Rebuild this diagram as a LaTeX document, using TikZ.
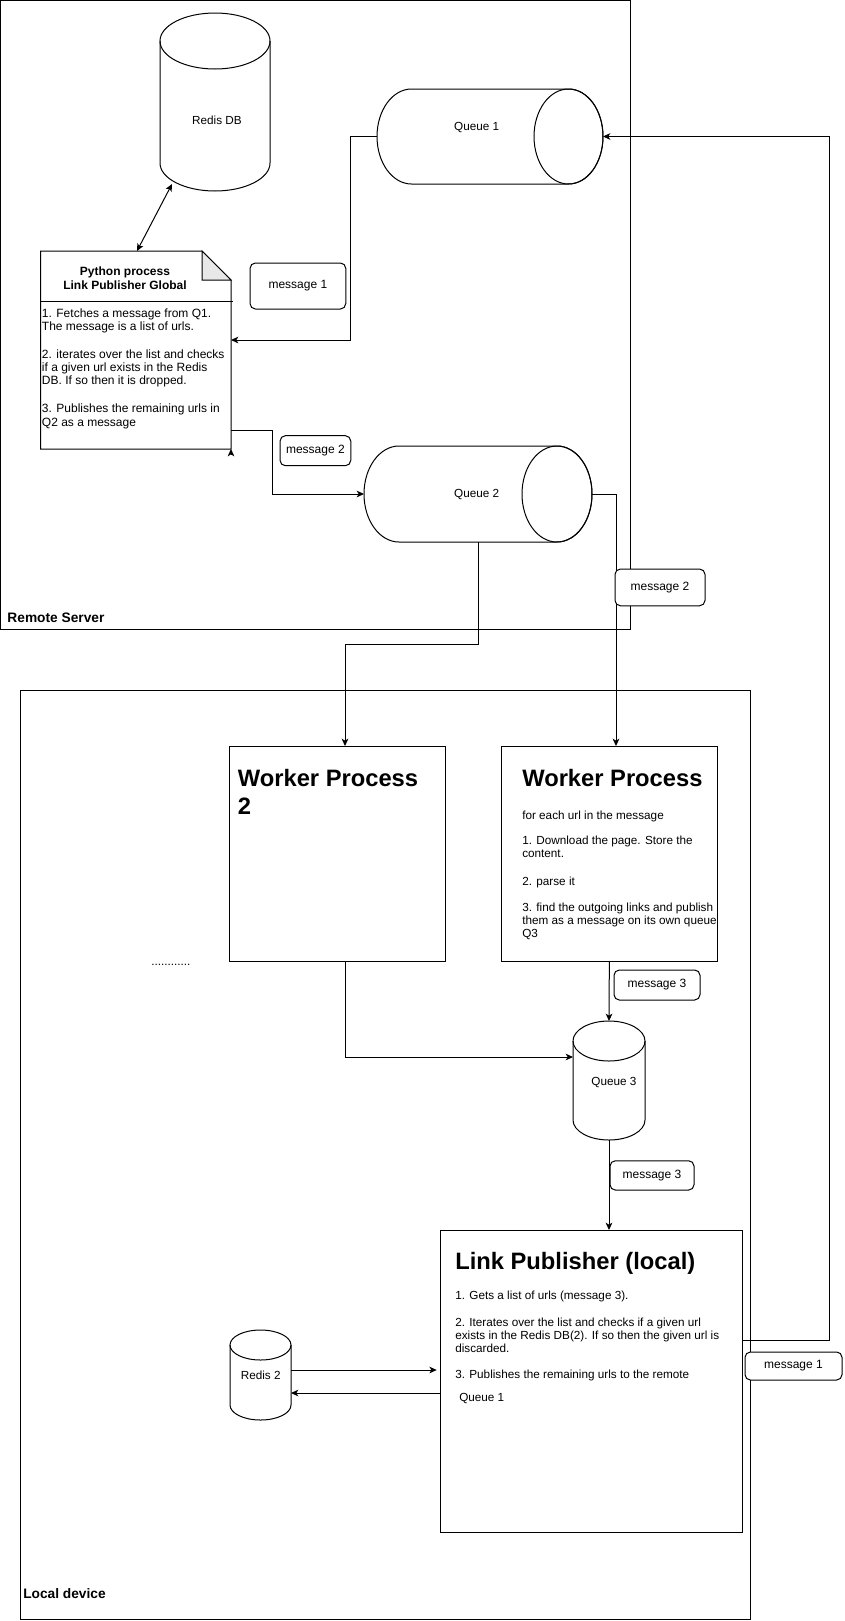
\documentclass[tikz,border=0pt]{standalone}
\usepackage{fontspec}
\setmainfont{Liberation Sans}
\usetikzlibrary{arrows.meta}
\colorlet{foldBg}{black!9}
\tikzset{
boxstyle/.style={rectangle, draw, inner sep=0pt, outer sep=0pt, line width=0.75pt},
hidestyle/.style={rectangle, inner sep=0pt, outer sep=0pt},
msgstyle/.style={rectangle, rounded corners=4pt, draw, fill=white, inner sep=0pt, outer sep=0pt, line width=0.75pt, font=\fontsize{9}{11}\selectfont},
cyllabel/.style={inner sep=0pt, font=\fontsize{8.8}{10.5}\selectfont},
linestyle/.style={anchor=base west, inner sep=0pt, font=\fontsize{8.8}{10.5}\selectfont},
pystyle/.style={anchor=base west, inner sep=0pt, font=\fontsize{9}{11}\selectfont},
headstyle/.style={anchor=base west, inner sep=0pt, font=\fontsize{17.8}{21}\selectfont\bfseries},
grouplabel/.style={anchor=base west, inner sep=0pt, font=\fontsize{10.3}{12}\selectfont\bfseries},
arr/.style={-{Stealth[length=5.5pt, width=5pt, inset=1.5pt]}, line width=0.75pt},
dblarr/.style={{Stealth[length=5.5pt, width=5pt, inset=1.5pt]}-{Stealth[length=5.5pt, width=5pt, inset=1.5pt]}, line width=0.75pt}
}
\newcommand{\panel}[5]{
  \node [boxstyle, minimum width={(#4-#2)*0.75pt}, minimum height={(#5-#3)*0.75pt}] (#1) at ({(#2+#4)/2}, {(#3+#5)/2}) {};
}
\newcommand{\msgbox}[6]{
  \node [msgstyle, minimum width={#4*0.75pt}, minimum height={#5*0.75pt}] (#1) at (#2, #3) {#6};
}
\newcommand{\hcyl}[9]{
  \node [hidestyle, minimum width={#4*0.75pt}, minimum height={#5*0.75pt}] (#1) at ({#2+#4/2}, {#3+#5/2}) {};
  \draw [line width=0.75pt] ({#2+#6}, #3) -- ({#2+#4-#6}, #3) arc [start angle=-90, end angle=90, x radius=#6, y radius={#5/2}] -- ({#2+#6}, {#3+#5}) arc [start angle=90, end angle=270, x radius=#6, y radius={#5/2}] -- cycle;
  \draw [line width=0.75pt] ({#2+#4-#6}, {#3+#5/2}) ellipse [x radius=#6, y radius={#5/2}];
  \node [cyllabel] (#1text) at (#7, #8) {#9};
}
\newcommand{\vcyl}[9]{
  \node [hidestyle, minimum width={#4*0.75pt}, minimum height={#5*0.75pt}] (#1) at ({#2+#4/2}, {#3+#5/2}) {};
  \draw [line width=0.75pt] (#2, {#3+#6}) -- (#2, {#3+#5-#6}) arc [start angle=180, end angle=0, x radius={#4/2}, y radius=#6] -- ({#2+#4}, {#3+#6});
  \draw [line width=0.75pt] ({#2+#4/2}, {#3+#6}) ellipse [x radius={#4/2}, y radius=#6];
  \node [cyllabel] (#1text) at (#7, #8) {#9};
}
\begin{document}
\begin{tikzpicture}[x=0.75pt, y=-0.75pt]
\useasboundingbox (0,0) rectangle (844,1621);

\panel{remote}{0.5}{0.5}{630.5}{629}
\panel{local}{20.7}{690}{750}{1619.5}
\node [grouplabel] (remotelabel) at (7.2, 622) {Remote Server};
\node [grouplabel] (locallabel) at (23, 1598) {Local device};

\vcyl{redis}{160}{13}{110}{178}{28}{217}{120}{Redis DB}
\hcyl{qone}{377}{89}{226}{95}{34.5}{476.7}{127.7}{Queue 1}
\hcyl{qtwo}{364}{446}{228}{96}{35}{476.7}{495}{Queue 2}
\vcyl{qthree}{573}{1021}{72}{119}{20}{614}{1082}{Queue 3}
\vcyl{redistwo}{230}{1330}{61}{90}{15}{260.7}{1375}{Redis 2}

\node [hidestyle, minimum width={190.3*0.75pt}, minimum height={198*0.75pt}] (py) at (135.85, 350) {};
\draw [line width=0.75pt] (40.7, 251) -- (202, 251) -- (231, 280) -- (231, 449) -- (40.7, 449) -- cycle;
\draw [line width=0.75pt, fill=foldBg] (202, 251) -- (202, 280) -- (231, 280) -- cycle;
\draw [line width=0.75pt] (40.7, 301.7) -- (233, 301.7);
\node [pystyle, anchor=base, font=\fontsize{9}{11}\selectfont\bfseries] (pytitle) at (125, 275.3) {Python process};
\node [pystyle, anchor=base, font=\fontsize{9}{11}\selectfont\bfseries] (pysub) at (125, 289.3) {Link Publisher Global};
\foreach \ty/\tx [count=\i] in {317.3/{1. Fetches a message from Q1.}, 330.3/{The message is a list of urls.}, 358.3/{2. iterates over the list and checks}, 371.3/{if a given url exists in the Redis}, 384.3/{DB. If so then it is dropped.}, 412.3/{3. Publishes the remaining urls in}, 426.3/{Q2 as a message}}
  \node [pystyle] (pyline\i) at (41.7, \ty) {\tx};

\panel{wptwo}{229}{746}{445}{961}
\node [headstyle] (wptwohead) at (237.6, 786.6) {Worker Process};
\node [headstyle] (wptwonum) at (237.6, 814.3) {2};

\panel{wp}{501.7}{746}{717}{961}
\node [headstyle] (wphead) at (522, 786.6) {Worker Process};
\foreach \ty/\tx [count=\i] in {819.6/{for each url in the message}, 844.6/{1. Download the page. Store the}, 857.6/{content.}, 885/{2. parse it}, 911/{3. find the outgoing links and publish}, 924/{them as a message on its own queue}, 937/{Q3}}
  \node [linestyle] (wpline\i) at (522, \ty) {\tx};

\panel{lp}{440.7}{1230}{742.7}{1532}
\node [headstyle] (lphead) at (455, 1269) {Link Publisher (local)};
\foreach \ty/\tx [count=\i] in {1299/{1. Gets a list of urls (message 3).}, 1326/{2. Iterates over the list and checks if a given url}, 1339.5/{exists in the Redis DB(2). If so then the given url is}, 1352.5/{discarded.}, 1378/{3. Publishes the remaining urls to the remote}}
  \node [linestyle] (lpline\i) at (455, \ty) {\tx};
\node [linestyle] (lpqueue) at (459, 1401) {Queue 1};

\node [linestyle] (dots) at (151, 965) {............};

\coordinate (redisfoot) at (172, 184);
\draw [dblarr] (py.north -| 137,0) -- (redisfoot);
\draw [arr] (qone.west) -| (350, 340) -- (py.east |- 0,340);
\draw [arr] (py.east |- 0,430) -| (272, 494) -- (qtwo.west);
\draw [arr] ([yshift=-4pt]py.south east) -- (py.south east);
\draw [arr] (qtwo.south) |- (345, 644) -- (wptwo.north -| 345,0);
\draw [arr] (qtwo.east) -| (wp.north -| 616,0);
\draw [arr] (wp.south) -- (qthree.north);
\draw [arr] (wptwo.south -| 345,0) |- (qthree.west |- 0,1057);
\draw [arr] (qthree.south) -- (qthree.south |- lp.north);
\draw [arr] (lp.east |- 0,1340) -| (qone.east -| 829,0) -- (qone.east);
\draw [arr, shorten >=3pt] (redistwo.east |- 0,1370) -- (lp.west |- 0,1370);
\draw [arr] (lp.west |- 0,1393) -- (redistwo.east |- 0,1393);

\msgbox{msgone}{297.9}{286}{95.7}{46}{message 1}
\msgbox{msgtwo}{315.4}{450.7}{70.7}{30}{message 2}
\msgbox{msgtwob}{660}{587.4}{90}{36.7}{message 2}
\msgbox{msgthree}{657}{985}{86}{30}{message 3}
\msgbox{msgthreeb}{652}{1175.4}{84}{29.3}{message 3}
\msgbox{msgoneb}{793.5}{1366}{97}{28}{message 1}
\end{tikzpicture}
\end{document}
